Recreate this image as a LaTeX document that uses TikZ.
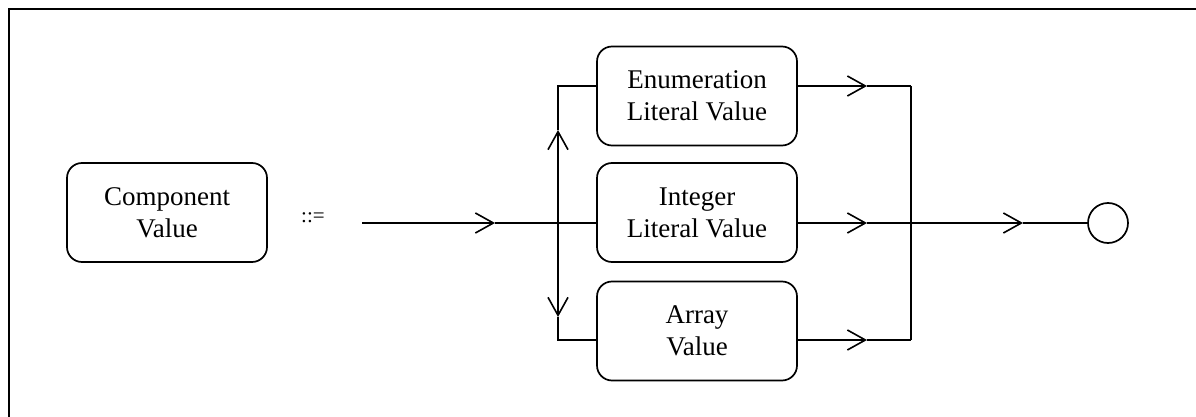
\documentclass[tikz,border=0pt]{standalone}
\usepackage{fontspec}
\setmainfont{Liberation Serif}
\usetikzlibrary{arrows.meta}
\begin{document}
\begin{tikzpicture}[x=1pt,y=-1pt,
  termbox/.style={draw,line width=1.7pt,rounded corners=15pt,minimum width=200pt,minimum height=99pt,align=center,inner sep=0pt,font=\fontsize{27}{32}\selectfont},
  conn/.style={line width=1.6pt},
  barb/.style={conn,-{Straight Barb[length=18pt,width=20pt,line width=1.6pt]}},
  endcirc/.style={draw,circle,line width=1.7pt,minimum size=40pt,inner sep=0pt}]
\useasboundingbox (0,0) rectangle (1196,417);
\draw[line width=2.2pt] (9,420) -- (9,9) -- (1200,9);
\node[termbox] (comp) at (167,212.5) {Component\\Value};
\node[font=\fontsize{21}{24}\selectfont] (def) at (313,218) {::=};
\node[termbox] (enum) at (697,96) {Enumeration\\Literal Value};
\node[termbox] (int) at (697,212.5) {Integer\\Literal Value};
\node[termbox] (arr) at (697,331) {Array\\Value};
\node[endcirc] (end) at (1108,223) {};
\coordinate (start) at (362,223);
\coordinate (ina) at (495,223);
\coordinate (jl) at (558,223);
\coordinate (jlt) at (558,86);
\coordinate (jlb) at (558,340);
\coordinate (upa) at (558,130);
\coordinate (dna) at (558,317);
\coordinate (jr) at (911,223);
\coordinate (jrt) at (911,86);
\coordinate (jrb) at (911,340);
\coordinate (outa) at (1023,223);
% input
\draw[barb] (start) -- (ina);
\draw[conn] (ina) -- (jl);
% left distribution
\draw[barb] (jl) -- (upa);
\draw[conn] (upa) -- (jlt) -- (jlt -| enum.west);
\draw[barb] (jl) -- (dna);
\draw[conn] (dna) -- (jlb) -- (jlb -| arr.west);
\draw[conn] (jl) -- (jl -| int.west);
% right collection
\coordinate (ea) at (867,86);
\coordinate (ia) at (867,223);
\coordinate (aa) at (867,340);
\draw[barb] (jrt -| enum.east) -- (ea);
\draw[conn] (ea) -- (jrt);
\draw[barb] (jr -| int.east) -- (ia);
\draw[conn] (ia) -- (jr);
\draw[barb] (jrb -| arr.east) -- (aa);
\draw[conn] (aa) -- (jrb);
\draw[conn] (jrt) -- (jrb);
% output
\draw[barb] (jr) -- (outa);
\draw[conn] (outa) -- (end.west);
\end{tikzpicture}
\end{document}
